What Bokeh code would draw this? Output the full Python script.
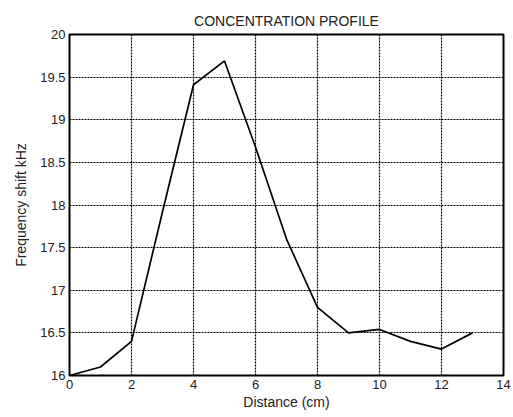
from bokeh.plotting import figure
from bokeh.models import FixedTicker, Range1d
from bokeh.embed import file_html
from bokeh.resources import INLINE

distance = [0, 1, 2, 3, 4, 5, 6, 7, 8, 9, 10, 11, 12, 13]
freq_shift = [16.0, 16.1, 16.4, 17.92, 19.41, 19.69, 18.68, 17.6, 16.8, 16.5, 16.54, 16.4, 16.31, 16.5]
x_ticks = [0, 2, 4, 6, 8, 10, 12, 14]
y_ticks = [16, 16.5, 17, 17.5, 18, 18.5, 19, 19.5, 20]
title_text = "CONCENTRATION PROFILE"

FONT = "Liberation Sans"

p = figure(width=513, height=417, output_backend="svg", toolbar_location=None,
           x_range=Range1d(0, 14), y_range=Range1d(16, 20),
           title=title_text,
           min_border_left=69, min_border_right=10, min_border_top=34, min_border_bottom=42)

p.line(distance, freq_shift, line_color="black", line_width=1.7)

p.title.align = "center"
p.title.text_font = FONT
p.title.text_font_size = "14px"
p.title.text_font_style = "normal"
p.title.text_color = "#222222"
p.title.standoff = 12

p.outline_line_color = "black"
p.outline_line_width = 2
p.outline_line_alpha = 1.0

for ax in (p.xaxis[0], p.yaxis[0]):
    ax.axis_line_color = None
    ax.major_tick_line_color = None
    ax.minor_tick_line_color = None
    ax.major_tick_out = 0
    ax.major_label_text_font = FONT
    ax.major_label_text_font_size = "13px"
    ax.major_label_text_color = "#222222"
    ax.axis_label_text_font = FONT
    ax.axis_label_text_font_size = "14px"
    ax.axis_label_text_font_style = "normal"
    ax.axis_label_text_color = "#222222"

p.xaxis[0].ticker = FixedTicker(ticks=x_ticks)
p.yaxis[0].ticker = FixedTicker(ticks=y_ticks)
p.xaxis[0].major_label_standoff = 4
p.yaxis[0].major_label_standoff = 4
p.xaxis[0].axis_label = "Distance (cm)"
p.yaxis[0].axis_label = "Frequency shift kHz"
p.xaxis[0].axis_label_standoff = 2
p.yaxis[0].axis_label_standoff = 8

p.xgrid[0].ticker = FixedTicker(ticks=x_ticks)
p.ygrid[0].ticker = FixedTicker(ticks=y_ticks)
for g in (p.xgrid[0], p.ygrid[0]):
    g.grid_line_color = "black"
    g.grid_line_dash = "2 1"
    g.grid_line_width = 1.2
    g.grid_line_alpha = 1.0

p.background_fill_color = "white"
p.border_fill_color = "white"

open("out.html", "w").write(file_html(p, INLINE))
